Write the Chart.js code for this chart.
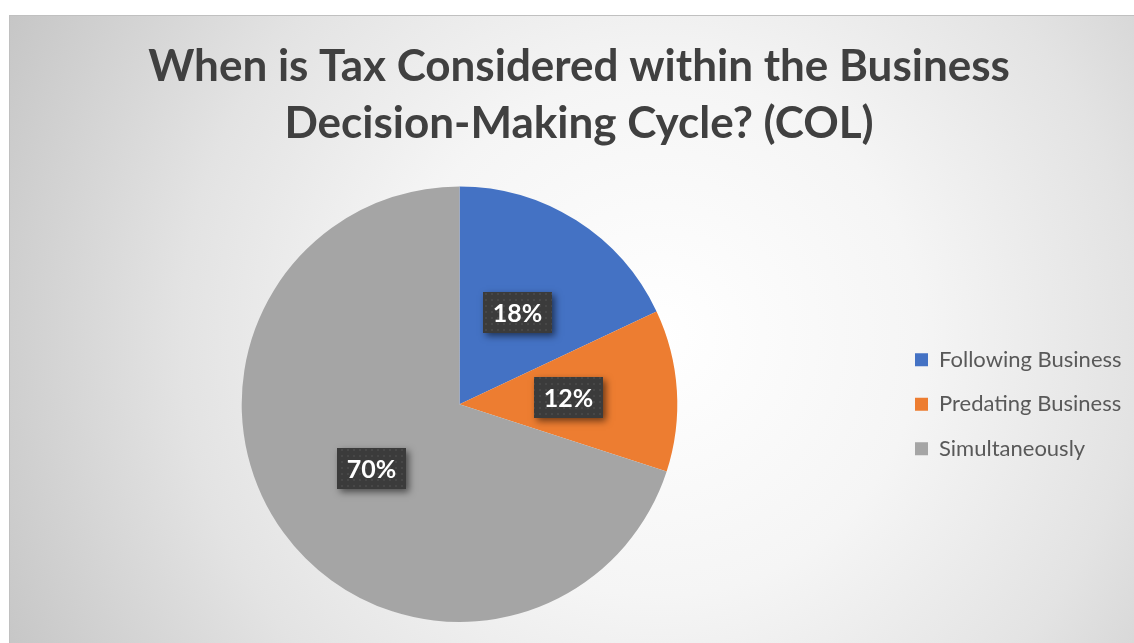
<!DOCTYPE html>
<html>
<head>
<meta charset="utf-8">
<title>When is Tax Considered within the Business Decision-Making Cycle? (COL)</title>
<script src="https://cdn.jsdelivr.net/npm/chart.js@4.4.0/dist/chart.umd.min.js"></script>
<style>
  html, body { margin: 0; padding: 0; background: #ffffff; width: 1134px; height: 643px; overflow: hidden; }
  #frame {
    position: absolute; left: 9px; top: 15px; width: 1125px; height: 628px;
    background: radial-gradient(circle farthest-corner at 650px 320px,
      #ffffff 0%, #f5f5f5 36%, #e3e3e3 66%, #c6c6c6 100%);
    box-shadow: inset 1px 1px 0 #c0c0c0;
  }
  #frame canvas { position: absolute; left: 0; top: 0; }
</style>
</head>
<body>
<div id="frame"><canvas id="chart" width="1125" height="628"></canvas></div>
<script>
// Survey answers: share of respondents per stage
const categories = ['Following Business', 'Predating Business', 'Simultaneously'];
const shares = [18, 12, 70];
const sliceColors = ['#4472C4', '#ED7D31', '#A5A5A5'];
const titleLines = ['When is Tax Considered within the Business', 'Decision-Making Cycle? (COL)'];

const FONT = 'Lato, "Open Sans", sans-serif';
const CANVAS_W = 1125;
const legendFontSize = 22;
const legendBox = 13;
const legendGap = 22.5;
const legendLeft = 883.5;   // where the legend column begins
const leftPad = 17.5;

// Legend width = gap + box + half font + text + 10 (Chart.js vertical legend)
const measure = document.createElement('canvas').getContext('2d');
measure.font = legendFontSize + 'px ' + FONT;
const longest = Math.max(...categories.map(c => measure.measureText(c).width));
const legendItemWidth = legendBox + legendFontSize / 2 + longest;
const rightPad = Math.max(0, CANVAS_W - legendLeft - legendGap - legendItemWidth - 10);

// Small dark tile with a faint lighter dot, repeated as the label background
const dotTile = (() => {
  const c = document.createElement('canvas');
  c.width = 6; c.height = 6;
  const g = c.getContext('2d');
  g.fillStyle = '#3b3b3b'; g.fillRect(0, 0, 6, 6);
  g.fillStyle = '#474747'; g.fillRect(2, 2, 2, 2);
  return c;
})();

const valueBoxes = {
  id: 'valueBoxes',
  afterDatasetsDraw(chart) {
    const ctx = chart.ctx;
    const meta = chart.getDatasetMeta(0);
    const values = chart.data.datasets[0].data;
    ctx.save();
    ctx.font = 'bold 25px ' + FONT;
    meta.data.forEach((arc, i) => {
      const { x, y } = arc.tooltipPosition();
      const text = values[i] + '%';
      const w = Math.round(ctx.measureText(text).width + 20);
      const h = 41;
      const bx = Math.round(x - w / 2), by = Math.round(y - h / 2);
      ctx.save();
      ctx.shadowColor = 'rgba(0,0,0,0.55)';
      ctx.shadowBlur = 7;
      ctx.shadowOffsetX = 3;
      ctx.shadowOffsetY = 3;
      ctx.fillStyle = '#3b3b3b';
      ctx.fillRect(bx, by, w, h);
      ctx.restore();
      ctx.fillStyle = ctx.createPattern(dotTile, 'repeat');
      ctx.fillRect(bx, by, w, h);
      ctx.fillStyle = '#ffffff';
      ctx.textAlign = 'center';
      ctx.textBaseline = 'middle';
      ctx.fillText(text, bx + w / 2, by + h / 2 + 1);
    });
    ctx.restore();
  }
};

new Chart(document.getElementById('chart'), {
  type: 'pie',
  data: {
    labels: categories,
    datasets: [{
      data: shares,
      backgroundColor: sliceColors,
      borderWidth: 0
    }]
  },
  options: {
    responsive: false,
    animation: false,
    events: [],
    layout: { padding: { left: leftPad, right: rightPad, top: 0, bottom: 21 } },
    plugins: {
      tooltip: { enabled: false },
      title: {
        display: true,
        text: titleLines,
        color: '#404040',
        font: { family: FONT, size: 44, weight: 'bold', lineHeight: 1.3 },
        padding: { top: 23, bottom: 34 }
      },
      legend: {
        position: 'right',
        fullSize: false,
        labels: {
          boxWidth: legendBox,
          boxHeight: legendBox,
          padding: legendGap,
          color: '#595959',
          font: { family: FONT, size: legendFontSize }
        }
      }
    }
  },
  plugins: [valueBoxes]
});
</script>
</body>
</html>
